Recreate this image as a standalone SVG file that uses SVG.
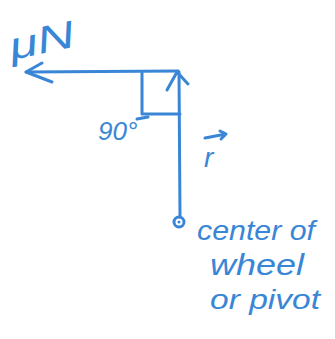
<svg xmlns="http://www.w3.org/2000/svg" width="335" height="339" viewBox="0 0 335 339">
<style>
.ink{fill:none;stroke:#3a86d6;stroke-width:3;stroke-linecap:round;stroke-linejoin:round}
.t{fill:#3a86d6;font-family:"Liberation Sans",Arial,sans-serif;font-style:italic}
</style>
<rect width="335" height="339" fill="#fff"/>
<g id="connectors">
<path class="ink" d="M26 72 L178 71"/>
<path class="ink" d="M42 63 L26 72 L52 82"/>
<path class="ink" d="M179 72 L180 217"/>
<path class="ink" d="M167 90 L177 72 L188 84"/>
<path class="ink" d="M142 73 L142 114 L180 114"/>
<path class="ink" d="M137 119 L148 117"/>
</g>
<g id="pivot">
<circle cx="179" cy="222" r="5" class="ink" stroke-width="2.5"/>
<circle cx="179" cy="222" r="1.5" fill="#3a86d6"/>
</g>
<g id="label-muN"><text class="t" x="12" y="60" font-size="38" textLength="66" lengthAdjust="spacingAndGlyphs" transform="rotate(-12 12 60)">μN</text></g>
<g id="label-90"><text class="t" x="98" y="140" font-size="26">90°</text></g>
<g id="label-r">
<text class="t" x="204" y="167" font-size="28">r</text>
<path class="ink" stroke-width="2" d="M205 138 L226 134 M220 131 L226 134 L221 139"/>
</g>
<g id="label-center">
<text class="t" x="197" y="240" font-size="28" textLength="118" lengthAdjust="spacingAndGlyphs">center of</text>
<text class="t" x="210" y="275" font-size="30" textLength="94" lengthAdjust="spacingAndGlyphs">wheel</text>
<text class="t" x="210" y="309" font-size="28" textLength="110" lengthAdjust="spacingAndGlyphs">or pivot</text>
</g>
</svg>
